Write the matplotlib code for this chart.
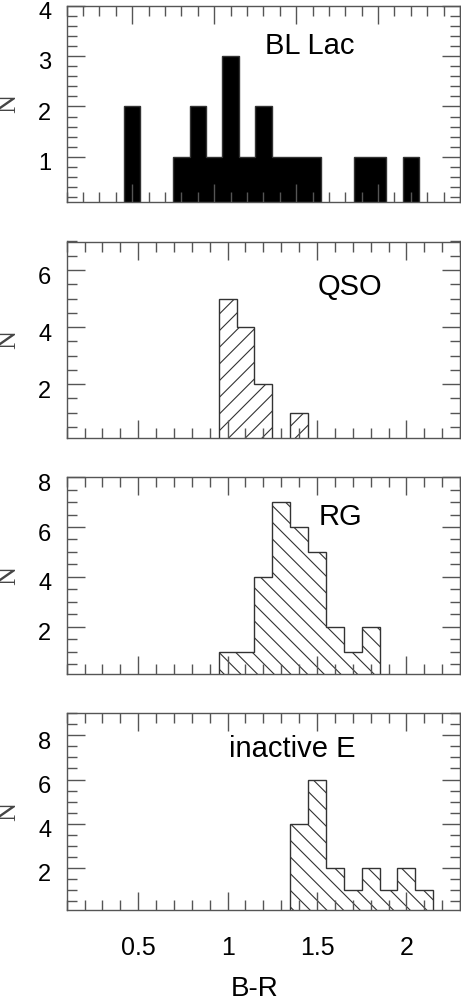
import matplotlib
matplotlib.use("Agg")
import matplotlib.pyplot as plt
import numpy as np
from matplotlib.ticker import MultipleLocator
from matplotlib.transforms import ScaledTranslation

plt.rcParams['font.family'] = ['Liberation Sans', 'DejaVu Sans']
plt.rcParams['hatch.linewidth'] = 0.8

# histogram bin centres (B-R) and counts, bin width 0.1
bl_lac_x = [0.5, 0.6, 0.7, 0.8, 0.9, 1.0, 1.1, 1.2, 1.3, 1.4, 1.5, 1.6, 1.7, 1.8, 1.9, 2.0, 2.1, 2.2]
bl_lac_n = [2, 0, 0, 1, 2, 1, 3, 1, 2, 1, 1, 1, 0, 0, 1, 1, 0, 1]

qso_x = [1.0, 1.1, 1.2, 1.3, 1.4]
qso_n = [5, 4, 2, 0, 1]

rg_x = [1.0, 1.1, 1.2, 1.3, 1.4, 1.5, 1.6, 1.7, 1.8]
rg_n = [1, 1, 4, 7, 6, 5, 2, 1, 2]

ine_x = [1.4, 1.5, 1.6, 1.7, 1.8, 1.9, 2.0, 2.1]
ine_n = [4, 6, 2, 1, 2, 1, 2, 1]

labels = ["BL Lac", "QSO", "RG", "inactive E"]
binw = 0.1

def edges(x):
    x = np.array(x)
    return np.append(x - binw/2, x[-1] + binw/2)

gris = '#555555'
fig = plt.figure(figsize=(4.61, 10), dpi=100)

# panel geometry in figure fractions
left, width = 0.1447, 0.8532
bottoms = [0.7977, 0.5617, 0.3260, 0.0900]
height = 0.1968

paneles = [
    (bl_lac_x, bl_lac_n, None, 'black', (0.1, 2.5), (0.1, 4), 1, 0.2, (0.619, 0.794)),
    (qso_x, qso_n, '//', 'none', (0.1, 2.3), (0.1, 7), 2, 0.5, (0.72, 0.767)),
    (rg_x, rg_n, '\\\\', 'none', (0.1, 2.3), (0.1, 8), 2, 0.5, (0.695, 0.797)),
    (ine_x, ine_n, '\\\\', 'none', (0.1, 2.3), (0.1, 9), 2, 0.5, (0.573, 0.818)),
]

bajar = ScaledTranslation(0, -5/100., fig.dpi_scale_trans)

for i, (x, n, hatch, fc, xl, yl, ymaj, ymin, tpos) in enumerate(paneles):
    ax = fig.add_axes([left, bottoms[i], width, height])
    ax.stairs(n, edges(x), fill=True, facecolor=fc, edgecolor='#333333',
              hatch=hatch, linewidth=1.0, baseline=0)
    ax.set_xlim(*xl)
    ax.set_ylim(*yl)
    ax.xaxis.set_major_locator(MultipleLocator(0.5))
    ax.xaxis.set_minor_locator(MultipleLocator(0.1))
    ax.yaxis.set_major_locator(MultipleLocator(ymaj))
    ax.yaxis.set_minor_locator(MultipleLocator(ymin))
    ax.tick_params(which='both', direction='in', top=True, right=True,
                   color=gris, width=1.0)
    ax.tick_params(which='major', length=13)
    ax.tick_params(which='minor', length=7)
    ax.tick_params(axis='y', labelsize=17, pad=11)
    ax.tick_params(axis='x', labelsize=18, pad=19)
    ax.set_xticks([0.5, 1, 1.5, 2])
    ax.set_xticklabels(['0.5', '1', '1.5', '2'])
    yt = np.arange(ymaj, yl[1] + 0.01, ymaj)
    ax.set_yticks(yt)
    ax.set_yticklabels(['%d' % v for v in yt])
    for lab in ax.get_yticklabels():
        lab.set_transform(lab.get_transform() + bajar)
    if i < 3:
        ax.tick_params(axis='x', labelbottom=False)
    for s in ax.spines.values():
        s.set_color(gris)
        s.set_linewidth(1.0)
    ax.text(tpos[0], tpos[1], labels[i], transform=ax.transAxes,
            ha='center', va='center', fontsize=21)
    fig.text(0.021, bottoms[i] + height*0.5, 'N', rotation=90, ha='center', va='center',
             family=['Liberation Serif', 'DejaVu Serif'], fontsize=19, color='#444444')

fig.text(0.553, 0.004, 'B-R', ha='center', va='baseline', fontsize=20)

fig.savefig('out.png', dpi=100)
